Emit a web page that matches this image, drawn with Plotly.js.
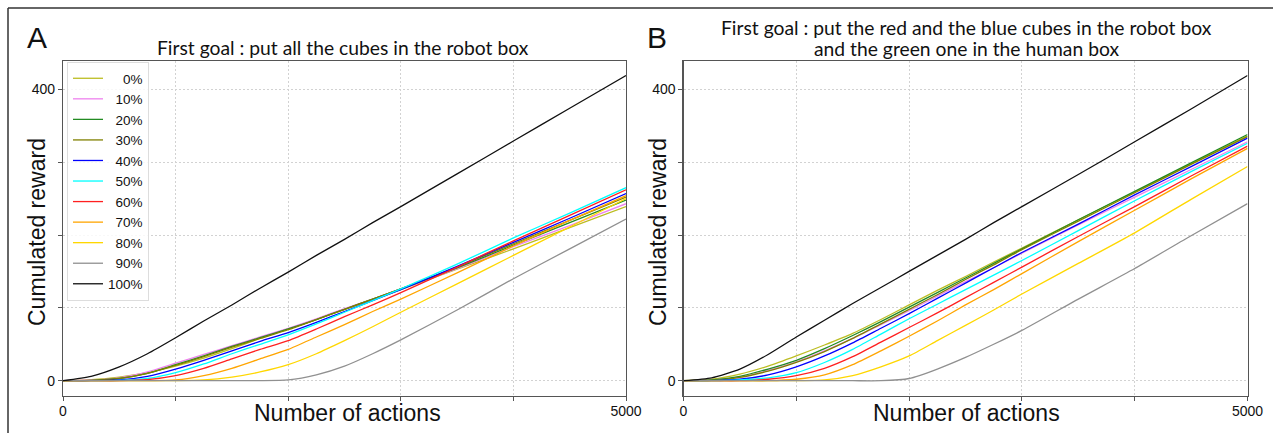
<!DOCTYPE html>
<html>
<head>
<meta charset="utf-8">
<script src="https://cdn.plot.ly/plotly-3.0.1.min.js"></script>
<style>html,body{margin:0;padding:0;background:#fff;}#chart{width:1273px;height:433px;}</style>
</head>
<body>
<div id="chart"></div>
<script>
// Shared x positions (number of actions)
const actions = [0,250,500,750,1000,1250,1500,1750,2000,2250,2500,2750,3000,3500,4000,4500,5000];

const seriesLabels = ['0%','10%','20%','30%','40%','50%','60%','70%','80%','90%','100%'];
const legendLabels = ['\u2007\u20070%','\u200710%','\u200720%','\u200730%','\u200740%','\u200750%','\u200760%','\u200770%','\u200780%','\u200790%','100%'];
const seriesColors = ['#bcbd22','#ee82ee','#228b22','#808000','#0000ff','#00ffff','#ff2020','#ffa500','#ffd700','#909090','#111111'];

// Panel A: first goal = all cubes in robot box
const rewardA_0   = [0,1.5,5,11,20,31,44,58,71,84,98,111,125,153,181,210,239];
const rewardA_10  = [0,1,4,12,24,36,48,60,72,85,99,112,126,154,184,213,243];
const rewardA_20  = [0,0.5,3,10,22,34,47,59,71,84,98,112,126,155,186,217,248];
const rewardA_30  = [0,0.5,3,10,21,33,46,58,70,84,98,112,126,156,188,220,252];
const rewardA_40  = [0,0,1,6,16,28,41,54,66,80,95,110,125,157,190,223,257];
const rewardA_50  = [0,0,0.5,3,11,23,37,50,63,78,94,110,126,160,196,230,265];
const rewardA_60  = [0,0,0,1.5,7,17,30,43,55,71,88,104,121,156,192,227,262];
const rewardA_70  = [0,0,0,0,1,7,17,30,43,60,77,95,112,148,185,220,254];
const rewardA_80  = [0,0,0,0,0,1,5,12,22,37,55,74,94,133,172,211,250];
const rewardA_90  = [0,0,0,0,0,0,0,0,1,8,20,37,56,97,140,181,222];
const rewardA_100 = [0,6,19,37,59,82,104,127,149,172,194,217,239,284,329,374,419];

// Panel B: red & blue cubes in robot box, green in human box
const rewardB_0   = [0,2,9,20,34,49,65,84,104,124,143,163,182,221,259,298,336];
const rewardB_10  = [0,1,5,14,26,41,58,77,96,116,136,155,175,214,252,290,328];
const rewardB_20  = [0,1,6,16,28,44,62,81,101,121,141,161,181,221,260,299,338];
const rewardB_30  = [0,0.5,4.5,13,25,40,58,78,98,118,139,159,180,219,258,297,335];
const rewardB_40  = [0,0,2,8,19,34,52,72,92,113,134,155,176,215,255,294,333];
const rewardB_50  = [0,0,1,4,11,25,43,64,85,105,125,145,165,206,247,287,326];
const rewardB_60  = [0,0,0,2,7,17,33,53,73,93,114,135,156,198,239,281,322];
const rewardB_70  = [0,0,0,0,2,8,22,41,61,82,104,125,147,191,234,277,319];
const rewardB_80  = [0,0,0,0,0,1,7,19,34,55,76,97,119,161,203,249,294];
const rewardB_90  = [0,0,0,0,0,0,0,0,3,16,32,50,69,112,154,199,243];
const rewardB_100 = [0,4,16,36,60,83,106,128,150,172,194,217,239,283,328,373,419];

const xTickVals = [0,1000,2000,3000,4000,5000];
const xTickText = ['0','','','','','5000'];
const yTickVals = [0,100,200,300,400];
const yTickText = ['0','','','','400'];

const seriesA = [rewardA_0,rewardA_10,rewardA_20,rewardA_30,rewardA_40,rewardA_50,rewardA_60,rewardA_70,rewardA_80,rewardA_90,rewardA_100];
const seriesB = [rewardB_0,rewardB_10,rewardB_20,rewardB_30,rewardB_40,rewardB_50,rewardB_60,rewardB_70,rewardB_80,rewardB_90,rewardB_100];

const traces = [];
seriesA.forEach((ys,i)=>{
  traces.push({x:actions,y:ys,type:'scatter',mode:'lines',name:legendLabels[i],
    line:{color:seriesColors[i],width:1.3,shape:'spline',smoothing:0.6},xaxis:'x',yaxis:'y',showlegend:true,legendgroup:seriesLabels[i]});
});
seriesB.forEach((ys,i)=>{
  traces.push({x:actions,y:ys,type:'scatter',mode:'lines',name:legendLabels[i],
    line:{color:seriesColors[i],width:1.3,shape:'spline',smoothing:0.6},xaxis:'x2',yaxis:'y2',showlegend:false,legendgroup:seriesLabels[i]});
});

const axisCommon = {
  showline:true, mirror:true, linecolor:'#555', linewidth:1.2,
  showgrid:true, gridcolor:'#d2d2d2', griddash:'2px,2px', gridwidth:1,
  zeroline:false, ticks:'outside', ticklen:4, tickcolor:'#555',
  tickfont:{family:'Liberation Sans, Arial, sans-serif', size:14, color:'#111'}
};
const xa = Object.assign({}, axisCommon, {range:[0,5000], tickmode:'array', tickvals:xTickVals, ticktext:xTickText, ticklabelstandoff:-2, tickfont:{family:'Liberation Sans, Arial, sans-serif', size:14, color:'#111'}});
const ya = Object.assign({}, axisCommon, {range:[-20.6,438.9], tickmode:'array', tickvals:yTickVals, ticktext:yTickText});

const titleFont = {family:'Lato, "Open Sans", sans-serif', size:19.3, color:'#111'};
const bigFont = {family:'Liberation Sans, Arial, sans-serif', size:23, color:'#111'};

const layout = {
  width:1273, height:433,
  margin:{l:0,r:0,t:0,b:0},
  paper_bgcolor:'#fff', plot_bgcolor:'#fff',
  showlegend:true,
  legend:{x:67/1273, y:1-62/433, xanchor:'left', yanchor:'top', bgcolor:'rgba(255,255,255,0.85)',
    bordercolor:'#dddddd', borderwidth:1, font:{family:'Liberation Sans, Arial, sans-serif', size:13.5, color:'#111'},
    tracegroupgap:0, itemwidth:30},
  xaxis: Object.assign({}, xa, {domain:[63/1273, 626/1273], anchor:'y'}),
  yaxis: Object.assign({}, ya, {domain:[1-395.7/433, 1-61/433], anchor:'x'}),
  xaxis2: Object.assign({}, xa, {domain:[683.5/1273, 1247.5/1273], anchor:'y2'}),
  yaxis2: Object.assign({}, ya, {domain:[1-395.7/433, 1-61/433], anchor:'x2'}),
  shapes:[
    {type:'line', xref:'paper', yref:'paper', x0:8/1273, x1:1, y0:1-8/433, y1:1-8/433, line:{color:'#333', width:1.5}},
    {type:'line', xref:'paper', yref:'paper', x0:8/1273, x1:8/1273, y0:1-8/433, y1:0, line:{color:'#333', width:1.5}}
  ],
  annotations:[
    {text:'A', xref:'paper', yref:'paper', x:37/1273, y:1-38/433, xanchor:'center', yanchor:'middle', showarrow:false, font:{family:'Liberation Sans, Arial, sans-serif', size:30, color:'#111'}},
    {text:'B', xref:'paper', yref:'paper', x:657/1273, y:1-38/433, xanchor:'center', yanchor:'middle', showarrow:false, font:{family:'Liberation Sans, Arial, sans-serif', size:30, color:'#111'}},
    {text:'First goal : put all the cubes in the robot box', xref:'paper', yref:'paper', x:343/1273, y:1-47/433, xanchor:'center', yanchor:'middle', showarrow:false, font:titleFont},
    {text:'First goal : put the red and the blue cubes in the robot box', xref:'paper', yref:'paper', x:966/1273, y:1-27/433, xanchor:'center', yanchor:'middle', showarrow:false, font:titleFont},
    {text:'and the green one in the human box', xref:'paper', yref:'paper', x:966/1273, y:1-49/433, xanchor:'center', yanchor:'middle', showarrow:false, font:titleFont},
    {text:'Cumulated reward', xref:'paper', yref:'paper', x:37/1273, y:1-232/433, xanchor:'center', yanchor:'middle', textangle:-90, showarrow:false, font:bigFont},
    {text:'Cumulated reward', xref:'paper', yref:'paper', x:658/1273, y:1-232/433, xanchor:'center', yanchor:'middle', textangle:-90, showarrow:false, font:bigFont},
    {text:'Number of actions', xref:'paper', yref:'paper', x:347/1273, y:1-413/433, xanchor:'center', yanchor:'middle', showarrow:false, font:bigFont},
    {text:'Number of actions', xref:'paper', yref:'paper', x:966/1273, y:1-413/433, xanchor:'center', yanchor:'middle', showarrow:false, font:bigFont}
  ]
};

Plotly.newPlot('chart', traces, layout, {staticPlot:true, displayModeBar:false});
</script>
</body>
</html>
